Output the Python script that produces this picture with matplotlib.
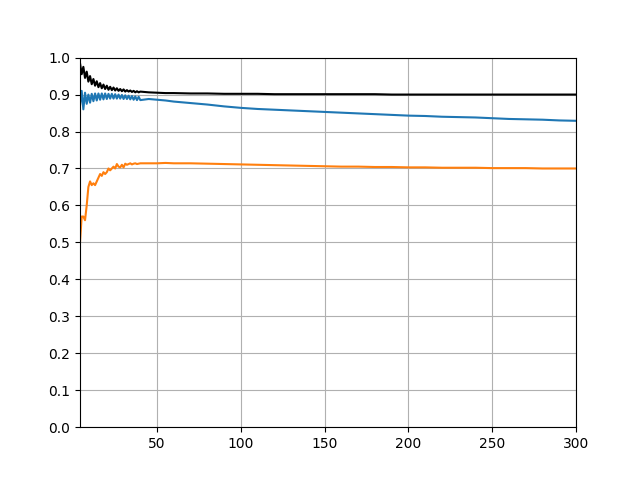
import matplotlib
matplotlib.use("Agg")
import matplotlib.pyplot as plt

# ------------- data
x = list(range(4, 41)) + [45, 50, 55, 60] + list(range(70, 301, 10))

black = [0.985, 0.955, 0.975, 0.945, 0.962, 0.935, 0.950, 0.928, 0.942, 0.924,
         0.936, 0.920, 0.931, 0.917, 0.927, 0.915, 0.924, 0.913, 0.921, 0.912,
         0.919, 0.911, 0.917, 0.910, 0.915, 0.909, 0.914, 0.908, 0.912, 0.908,
         0.911, 0.907, 0.910, 0.906, 0.909, 0.906, 0.908,
         0.906, 0.905, 0.904, 0.904,
         0.903, 0.903, 0.902, 0.902, 0.902, 0.901, 0.901, 0.901, 0.901, 0.901,
         0.901, 0.901, 0.900, 0.900, 0.900, 0.900, 0.900, 0.900, 0.900, 0.900,
         0.900, 0.900, 0.900, 0.900]

blue = [0.870, 0.910, 0.860, 0.905, 0.875, 0.900, 0.878, 0.902, 0.882, 0.903,
        0.884, 0.903, 0.886, 0.903, 0.887, 0.903, 0.888, 0.902, 0.889, 0.902,
        0.889, 0.901, 0.889, 0.900, 0.889, 0.899, 0.888, 0.898, 0.888, 0.897,
        0.887, 0.896, 0.886, 0.895, 0.885, 0.894, 0.885,
        0.888, 0.886, 0.884, 0.881,
        0.877, 0.873, 0.868, 0.864, 0.861, 0.859, 0.857, 0.855, 0.853, 0.851,
        0.849, 0.847, 0.845, 0.843, 0.842, 0.840, 0.839, 0.838, 0.836, 0.834,
        0.833, 0.832, 0.830, 0.829]

orange = [0.500, 0.570, 0.570, 0.560, 0.600, 0.650, 0.665, 0.655, 0.660, 0.655,
          0.665, 0.675, 0.685, 0.680, 0.690, 0.685, 0.690, 0.700, 0.695, 0.700,
          0.705, 0.700, 0.712, 0.705, 0.703, 0.710, 0.703, 0.713, 0.710, 0.712,
          0.714, 0.711, 0.713, 0.714, 0.712, 0.713, 0.714,
          0.714, 0.714, 0.715, 0.714,
          0.714, 0.713, 0.712, 0.711, 0.710, 0.709, 0.708, 0.707, 0.706, 0.705,
          0.705, 0.704, 0.704, 0.703, 0.703, 0.702, 0.702, 0.702, 0.701, 0.701,
          0.701, 0.700, 0.700, 0.700]

yticks = [0.0, 0.1, 0.2, 0.3, 0.4, 0.5, 0.6, 0.7, 0.8, 0.9, 1.0]

# ------------- figure
fig, ax = plt.subplots(figsize=(6.4, 4.8), dpi=100)

ax.plot(x, blue, color='#1f77b4')
ax.plot(x, orange, color='#ff7f0e')
ax.plot(x, black, color='k')

ax.set_xlim(4, 300)
ax.set_ylim(0, 1)
ax.set_yticks(yticks)
ax.grid(True)

fig.savefig("out.png")
